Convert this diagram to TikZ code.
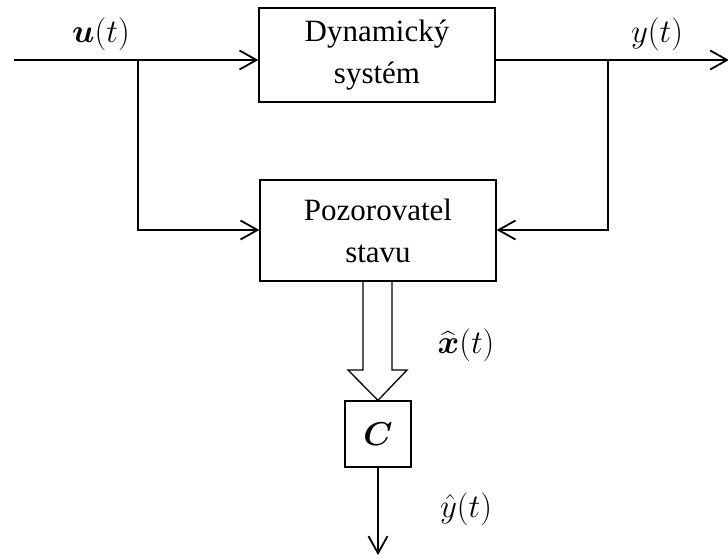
\RequirePackage{fix-cm}
\documentclass[tikz,border=0pt]{standalone}
\usepackage{amsmath}
\usepackage{fontspec}
\setmainfont{Liberation Serif}
\usetikzlibrary{arrows.meta}
\begin{document}
\begin{tikzpicture}[x=1pt,y=-1pt,
  blk/.style={draw,line width=1.3pt,inner sep=0pt,align=center,font=\fontsize{31}{42}\selectfont},
  sig/.style={line width=1.8pt,-{Straight Barb[length=17pt,width=19pt,line width=1.8pt]}},
  wire/.style={line width=1.8pt},
  lbl/.style={font=\fontsize{33}{36}\selectfont}]
\useasboundingbox (0,0) rectangle (728,559);
\node[blk,minimum width=236pt,minimum height=94pt] (dyn) at (377,55) {Dynamický\\systém};
\node[blk,minimum width=236pt,minimum height=101pt] (poz) at (378,230.5) {Pozorovatel\\stavu};
\node[blk,minimum width=66pt,minimum height=66pt,font=\fontsize{33}{36}\selectfont] (cb) at (378,434) {$\boldsymbol{C}$};
\coordinate (in) at (14,60);
\coordinate (bu) at (138,60);
\coordinate (by) at (608,60);
\coordinate (out) at (729,60);
\coordinate (yend) at (378,555);
\draw[wire] (in) -- (bu);
\draw[sig] (bu) -- (dyn.west |- bu);
\draw[sig] (dyn.east |- by) -- (out);
\draw[sig] (bu) |- (poz.west |- 0,230);
\draw[sig] (by) |- (poz.east |- 0,230);
\draw[line width=1.3pt,line join=miter] (363,281) -- (363,370) -- (348,370) -- (cb.north) -- (407,370) -- (392,370) -- (392,281);
\draw[sig] (cb.south) -- (yend);
\node[lbl] (lu) at (101,34) {$\boldsymbol{u}(t)$};
\node[lbl] (ly) at (657,34) {$y(t)$};
\node[lbl] (lx) at (466,345) {$\widehat{\boldsymbol{x}}(t)$};
\node[lbl] (lyh) at (466,509) {$\hat{y}(t)$};
\end{tikzpicture}
\end{document}
